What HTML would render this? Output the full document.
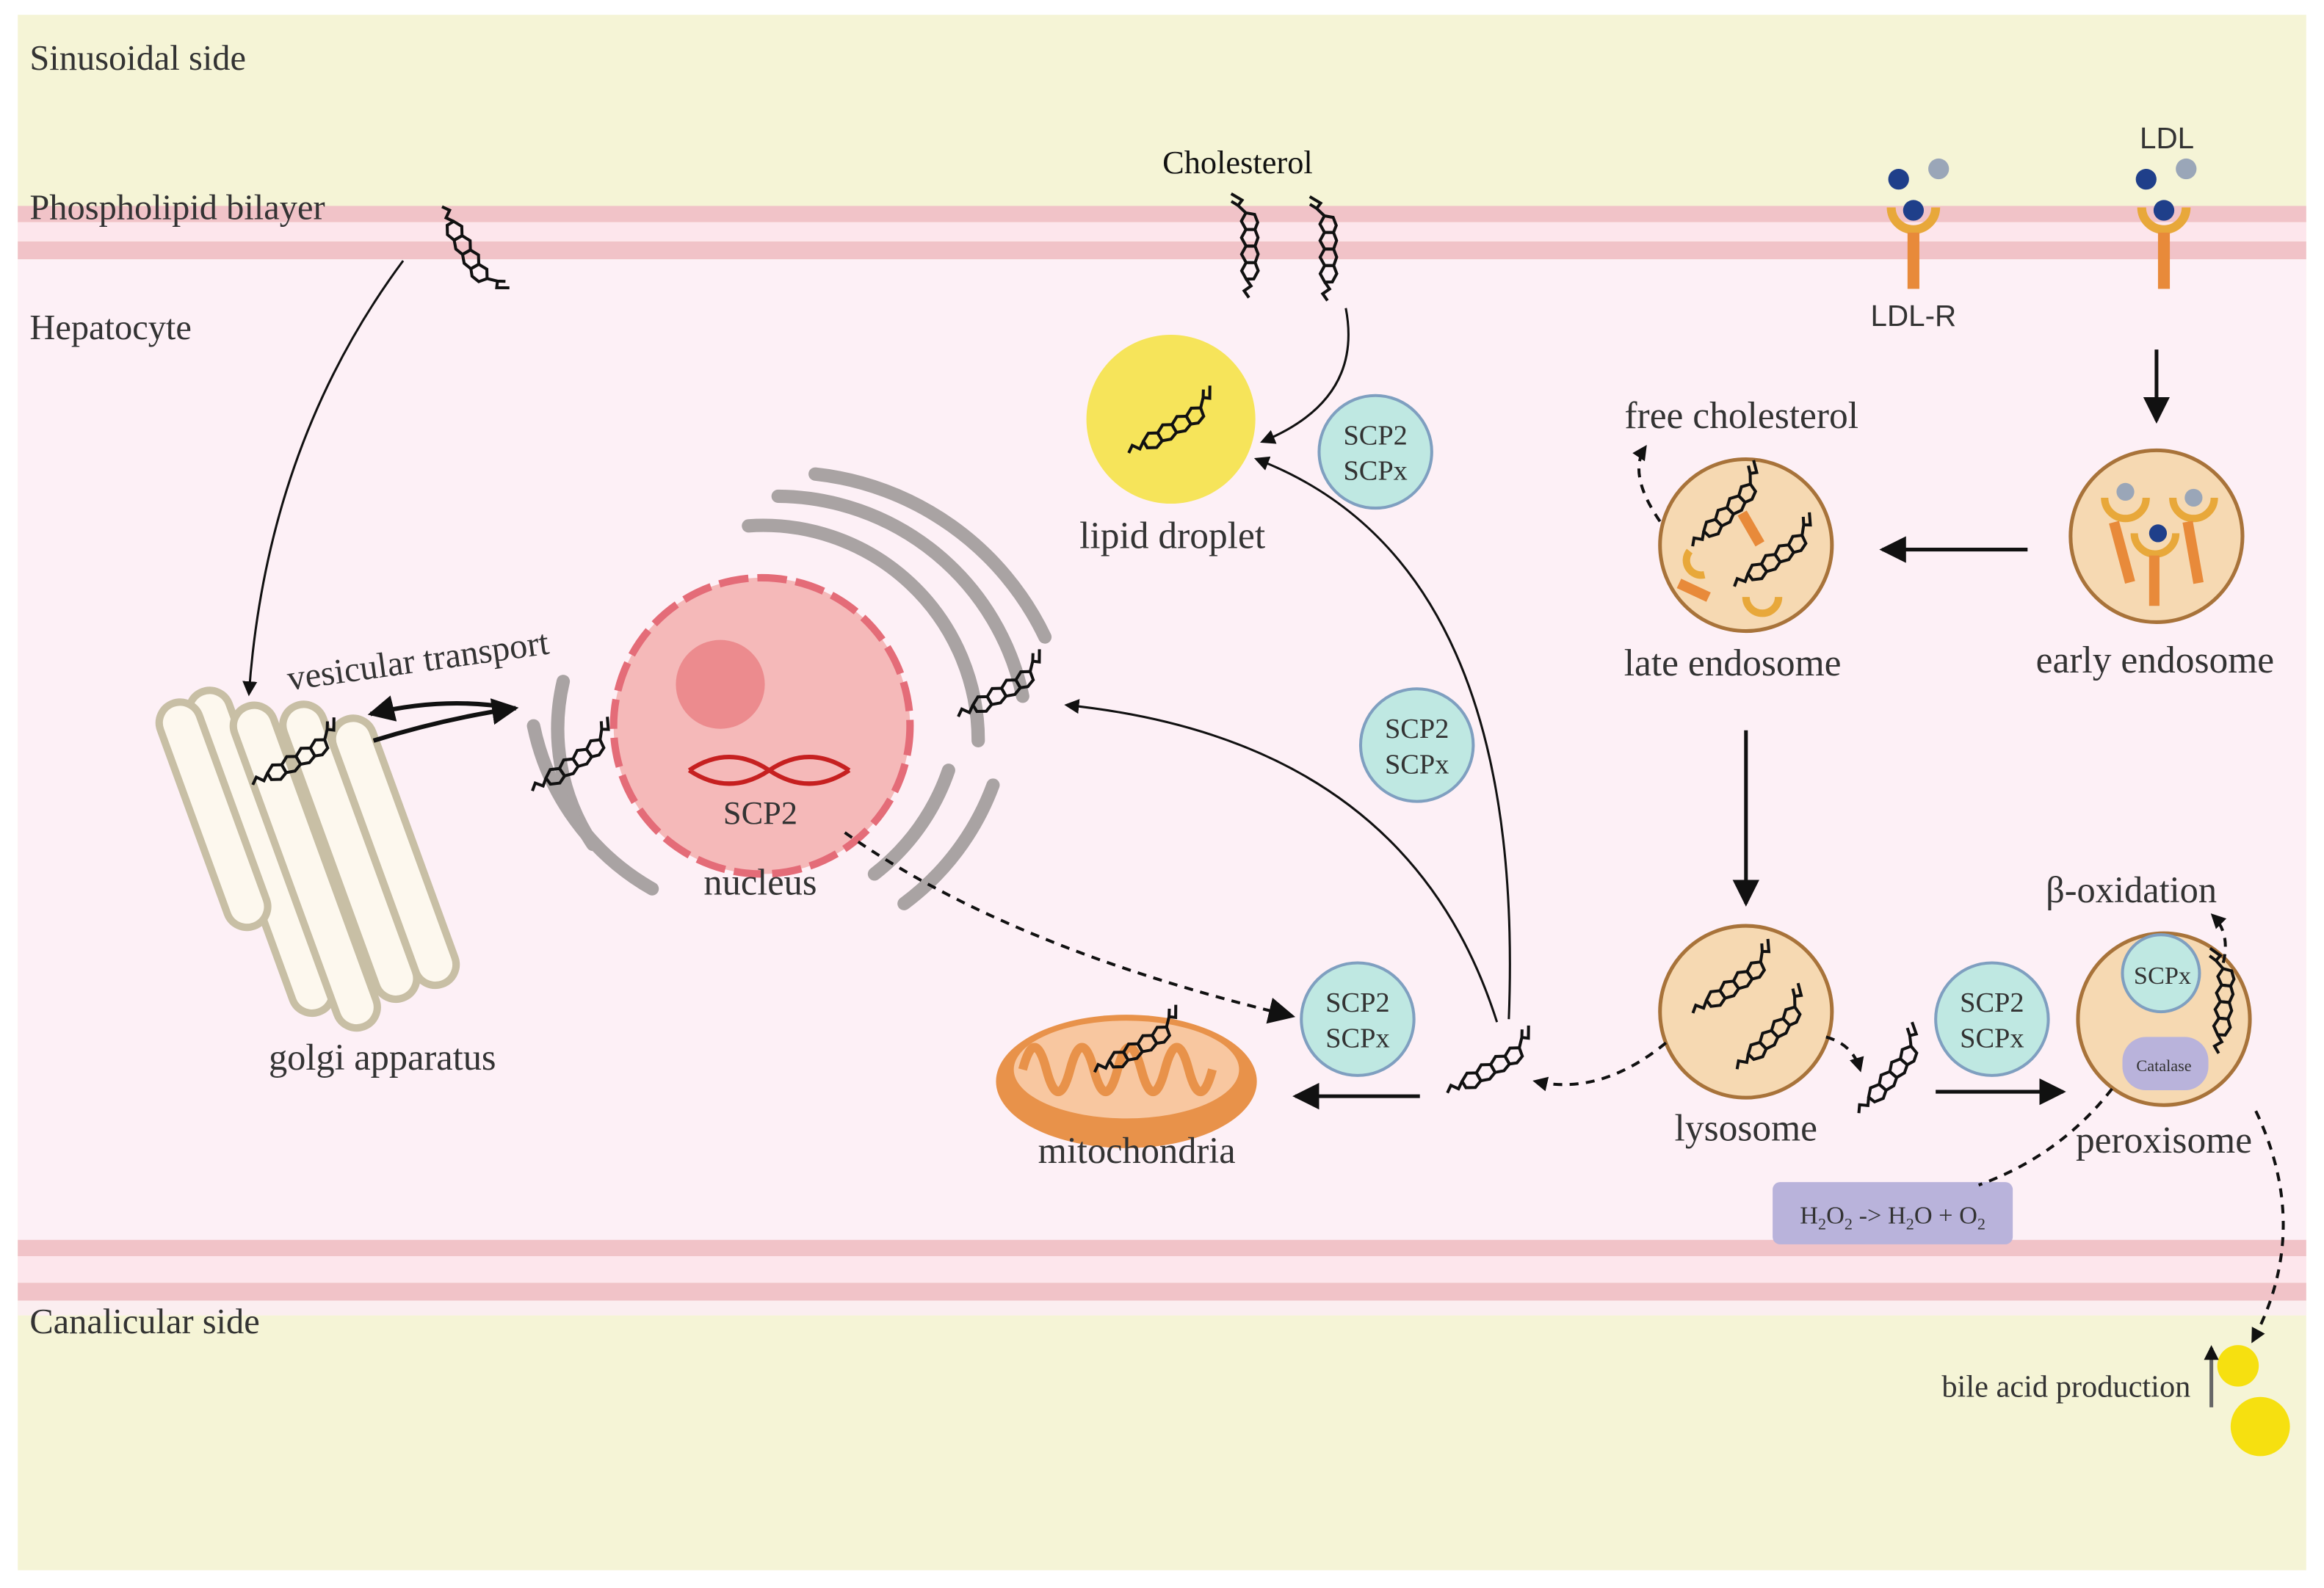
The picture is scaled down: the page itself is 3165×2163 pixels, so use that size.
<!DOCTYPE html>
<html><head><meta charset="utf-8"><style>
html,body{margin:0;padding:0;background:#fff;}
svg{display:block;}
text{font-family:"Liberation Serif",serif;fill:#333;}
.s{font-family:"Liberation Sans",sans-serif;}
</style></head><body>
<svg width="3165" height="2163" viewBox="0 0 1568 1072" preserveAspectRatio="none" xmlns="http://www.w3.org/2000/svg">
<defs>
<marker id="ah" markerWidth="10" markerHeight="10" refX="8" refY="5" orient="auto" markerUnits="userSpaceOnUse"><path d="M0,0 L10,5 L0,10 z" fill="#111"/></marker>
<marker id="ahb" markerWidth="18" markerHeight="18" refX="16" refY="9" orient="auto" markerUnits="userSpaceOnUse"><path d="M0,0 L18,9 L0,18 z" fill="#111"/></marker>
<g id="mol" fill="none" stroke="#111" stroke-width="2">
<path d="M-30,8 l4,-4 l4,4 l4,-4"/>
<polygon points="-18,4 -13,0 -7,2 -6,8 -11,11 -17,9"/>
<polygon points="-7,2 -2,-2 4,0 5,6 0,9 -6,8"/>
<polygon points="4,0 9,-4 15,-2 16,4 11,7 5,6"/>
<polygon points="15,-2 20,-6 26,-4 26,2 21,5 16,4"/>
<path d="M26,-4 l4,-6 l4,2 l3,-8 M30,-10 l2,-5"/>
</g>
</defs>
<rect width="1568" height="1072" fill="#fff"/>
<rect x="12" y="10" width="1544" height="1050" fill="#f5f4d6"/>
<rect x="12" y="175" width="1544" height="663" fill="#fdf0f6"/>
<!-- top membrane -->
<rect x="12" y="139" width="1544" height="11" fill="#f1c3c8"/>
<rect x="12" y="150" width="1544" height="13" fill="#fde6ec"/>
<rect x="12" y="163" width="1544" height="12" fill="#f1c3c8"/>
<!-- bottom membrane -->
<rect x="12" y="837" width="1544" height="11" fill="#f1c3c8"/>
<rect x="12" y="848" width="1544" height="18" fill="#fde6ec"/>
<rect x="12" y="866" width="1544" height="12" fill="#f1c3c8"/>
<rect x="12" y="878" width="1544" height="10" fill="#fbeef0"/>

<text x="20" y="47" font-size="24">Sinusoidal side</text>
<text x="20" y="148" font-size="24">Phospholipid bilayer</text>
<text x="20" y="229" font-size="24">Hepatocyte</text>
<text x="20" y="900" font-size="24">Canalicular side</text>

<use href="#mol" transform="translate(316,165) rotate(70)"/>
<use href="#mol" transform="translate(840,170) rotate(-80)"/>
<use href="#mol" transform="translate(893,172) rotate(-80)"/>
<text x="835" y="117" font-size="22" text-anchor="middle" style="fill:#111">Cholesterol</text>

<g>
<circle cx="1281" cy="121" r="7" fill="#1f3f8a"/><circle cx="1308" cy="114" r="7" fill="#9aa6b8"/>
<circle cx="1291" cy="142" r="7" fill="#1f3f8a"/>
<path d="M1276,140 a15,15 0 0 0 30,0" fill="none" stroke="#e8a83a" stroke-width="6"/>
<rect x="1287" y="157" width="8" height="38" fill="#e88a3a"/>
<circle cx="1448" cy="121" r="7" fill="#1f3f8a"/><circle cx="1475" cy="114" r="7" fill="#9aa6b8"/>
<circle cx="1460" cy="142" r="7" fill="#1f3f8a"/>
<path d="M1445,140 a15,15 0 0 0 30,0" fill="none" stroke="#e8a83a" stroke-width="6"/>
<rect x="1456" y="157" width="8" height="38" fill="#e88a3a"/>
<text class="s" x="1462" y="100" font-size="20" text-anchor="middle">LDL</text>
<text class="s" x="1291" y="220" font-size="20" text-anchor="middle">LDL-R</text>
</g>

<circle cx="790" cy="283" r="57" fill="#f6e45a"/>
<use href="#mol" transform="translate(787,288) rotate(-20)"/>
<text x="791" y="370" font-size="25.5" text-anchor="middle">lipid droplet</text>

<g font-size="19">
<circle cx="928" cy="305" r="38" fill="#bfe8e2" stroke="#7f9fc0" stroke-width="2"/>
<text x="928" y="300" text-anchor="middle">SCP2</text><text x="928" y="324" text-anchor="middle">SCPx</text>
<circle cx="956" cy="503" r="38" fill="#bfe8e2" stroke="#7f9fc0" stroke-width="2"/>
<text x="956" y="498" text-anchor="middle">SCP2</text><text x="956" y="522" text-anchor="middle">SCPx</text>
<circle cx="916" cy="688" r="38" fill="#bfe8e2" stroke="#7f9fc0" stroke-width="2"/>
<text x="916" y="683" text-anchor="middle">SCP2</text><text x="916" y="707" text-anchor="middle">SCPx</text>
<circle cx="1344" cy="688" r="38" fill="#bfe8e2" stroke="#7f9fc0" stroke-width="2"/>
<text x="1344" y="683" text-anchor="middle">SCP2</text><text x="1344" y="707" text-anchor="middle">SCPx</text>
</g>

<g fill="none" stroke="#a9a3a3" stroke-width="9" stroke-linecap="round">
<path d="M505,355 A145,145 0 0 1 660,500"/>
<path d="M525,335 A170,170 0 0 1 690,470"/>
<path d="M550,320 A195,195 0 0 1 705,430"/>
<path d="M640,520 A150,150 0 0 1 590,590"/>
<path d="M670,530 A175,175 0 0 1 610,610"/>
<path d="M380,460 A140,140 0 0 0 400,570"/>
<path d="M360,490 A165,165 0 0 0 440,600"/>
</g>
<circle cx="514" cy="490" r="100" fill="#f5b9b9" stroke="#e46c78" stroke-width="5" stroke-dasharray="20,6"/>
<circle cx="486" cy="462" r="30" fill="#ec8b8e"/>
<path d="M465,520 q27,-18 54,0 t54,0" fill="none" stroke="#c62020" stroke-width="3"/>
<path d="M465,520 q27,18 54,0 t54,0" fill="none" stroke="#c62020" stroke-width="3"/>
<text x="513" y="556" font-size="22" text-anchor="middle">SCP2</text>
<text x="513" y="604" font-size="25" text-anchor="middle">nucleus</text>
<use href="#mol" transform="translate(383,514) rotate(-25)"/>
<use href="#mol" transform="translate(672,466) rotate(-20)"/>

<g fill="#fdf8ee" stroke="#c8bfa5" stroke-width="5">
<rect x="162" y="460" width="28" height="230" rx="14" transform="rotate(-20 176 575)"/>
<rect x="192" y="470" width="28" height="230" rx="14" transform="rotate(-20 206 585)"/>
<rect x="222" y="470" width="28" height="210" rx="14" transform="rotate(-20 236 575)"/>
<rect x="252" y="480" width="28" height="190" rx="14" transform="rotate(-20 266 575)"/>
<rect x="130" y="470" width="28" height="160" rx="14" transform="rotate(-20 144 550)"/>
</g>
<use href="#mol" transform="translate(196,512) rotate(-20)"/>
<text x="258" y="722" font-size="25" text-anchor="middle">golgi apparatus</text>
<text x="195" y="466" font-size="24" transform="rotate(-8 195 466)">vesicular transport</text>
<path d="M345,478 Q300,470 250,482" fill="none" stroke="#111" stroke-width="3" marker-end="url(#ahb)"/>
<path d="M252,500 Q300,485 348,478" fill="none" stroke="#111" stroke-width="3" marker-end="url(#ahb)"/>

<ellipse cx="760" cy="730" rx="88" ry="45" fill="#e8924a"/>
<ellipse cx="760" cy="722" rx="76" ry="33" fill="#f8c7a0"/>
<path d="M690,722 q8,-30 16,0 q8,30 16,0 q8,-30 16,0 q8,30 16,0 q8,-30 16,0 q8,30 16,0 q8,-30 16,0 q8,30 16,0" fill="none" stroke="#e8924a" stroke-width="6"/>
<use href="#mol" transform="translate(764,706) rotate(-20)"/>
<text x="767" y="785" font-size="25" text-anchor="middle">mitochondria</text>

<g fill="#f6d9b2" stroke="#a8733a" stroke-width="2.5">
<circle cx="1178" cy="368" r="58"/><circle cx="1455" cy="362" r="58"/>
<circle cx="1178" cy="683" r="58"/><circle cx="1460" cy="688" r="58"/>
</g>
<use href="#mol" transform="translate(1162,345) rotate(-35)"/>
<use href="#mol" transform="translate(1194,376) rotate(-25)"/>
<rect x="1178" y="345" width="7" height="24" fill="#e88a3a" transform="rotate(-30 1181 357)"/>
<rect x="1132" y="395" width="22" height="7" fill="#e88a3a" transform="rotate(25 1143 398)"/>
<path d="M1140,372 a10,10 0 0 0 10,16" fill="none" stroke="#e8a83a" stroke-width="5"/>
<path d="M1178,403 a11,11 0 0 0 22,0" fill="none" stroke="#e8a83a" stroke-width="5"/>
<path d="M1420,336 a14,14 0 0 0 28,0" fill="none" stroke="#e8a83a" stroke-width="5"/>
<path d="M1466,336 a14,14 0 0 0 28,0" fill="none" stroke="#e8a83a" stroke-width="5"/>
<path d="M1440,360 a14,14 0 0 0 28,0" fill="none" stroke="#e8a83a" stroke-width="5"/>
<rect x="1428" y="352" width="7" height="42" fill="#e88a3a" transform="rotate(-15 1431 372)"/>
<rect x="1476" y="352" width="7" height="42" fill="#e88a3a" transform="rotate(-10 1479 372)"/>
<rect x="1450" y="375" width="7" height="34" fill="#e88a3a"/>
<circle cx="1434" cy="332" r="6" fill="#9aa6b8"/><circle cx="1480" cy="336" r="6" fill="#9aa6b8"/><circle cx="1456" cy="360" r="6" fill="#1f3f8a"/>
<use href="#mol" transform="translate(1166,664) rotate(-25)"/>
<use href="#mol" transform="translate(1192,698) rotate(-35)"/>
<text x="1175" y="289" font-size="25.5" text-anchor="middle">free cholesterol</text>
<text x="1169" y="456" font-size="25.5" text-anchor="middle">late endosome</text>
<text x="1454" y="454" font-size="25.5" text-anchor="middle">early endosome</text>
<text x="1178" y="770" font-size="25.5" text-anchor="middle">lysosome</text>
<text x="1460" y="778" font-size="25.5" text-anchor="middle">peroxisome</text>
<text x="1438" y="609" font-size="25" text-anchor="middle">β-oxidation</text>
<circle cx="1458" cy="657" r="26" fill="#bfe8e2" stroke="#7f9fc0" stroke-width="2"/>
<text x="1459" y="664" font-size="17" text-anchor="middle">SCPx</text>
<rect x="1432" y="700" width="58" height="36" rx="16" fill="#b9b3db"/>
<text x="1460" y="723" font-size="11" text-anchor="middle">Catalase</text>
<use href="#mol" transform="translate(1497,680) rotate(-75)"/>
<rect x="1196" y="798" width="162" height="42" rx="5" fill="#b9b3db"/>
<text x="1277" y="826" font-size="17" text-anchor="middle">H<tspan font-size="11" dy="4">2</tspan><tspan dy="-4">O</tspan><tspan font-size="11" dy="4">2</tspan><tspan dy="-4"> -&gt; H</tspan><tspan font-size="11" dy="4">2</tspan><tspan dy="-4">O + O</tspan><tspan font-size="11" dy="4">2</tspan></text>
<use href="#mol" transform="translate(1272,726) rotate(-40)"/>
<use href="#mol" transform="translate(1002,720) rotate(-20)"/>

<g fill="none" stroke="#111" stroke-width="1.5">
<path d="M272,176 Q180,300 168,468" marker-end="url(#ah)"/>
<path d="M908,208 Q920,270 852,298" marker-end="url(#ah)"/>
<path d="M1018,688 Q1030,380 848,310" marker-end="url(#ah)"/>
<path d="M1010,690 Q950,500 720,476" marker-end="url(#ah)"/>
</g>
<g fill="none" stroke="#111" stroke-width="2.5">
<path d="M1455,236 V284" marker-end="url(#ahb)"/>
<path d="M1368,371 H1270" marker-end="url(#ahb)"/>
<path d="M1178,493 V610" marker-end="url(#ahb)"/>
<path d="M958,740 H874" marker-end="url(#ahb)"/>
<path d="M1306,737 H1392" marker-end="url(#ahb)"/>
</g>
<g fill="none" stroke="#111" stroke-width="2" stroke-dasharray="6,5">
<path d="M570,562 Q680,640 872,686" marker-end="url(#ahb)"/>
<path d="M1120,352 Q1098,320 1110,302" marker-end="url(#ah)"/>
<path d="M1124,704 Q1080,740 1036,730" marker-end="url(#ah)"/>
<path d="M1232,700 Q1250,705 1255,722" marker-end="url(#ah)"/>
<path d="M1500,650 Q1505,630 1493,618" marker-end="url(#ah)"/>
<path d="M1522,750 Q1560,830 1520,905" marker-end="url(#ah)"/>
<path d="M1425,735 Q1390,780 1335,800"/>
</g>
<circle cx="1510" cy="922" r="14" fill="#f6e010"/>
<circle cx="1525" cy="963" r="20" fill="#f6e010"/>
<path d="M1492,950 V910" stroke="#666" stroke-width="2.5" marker-end="url(#ah)"/>
<text x="1478" y="943" font-size="21" text-anchor="end">bile acid production</text>
</svg>
</body></html>
